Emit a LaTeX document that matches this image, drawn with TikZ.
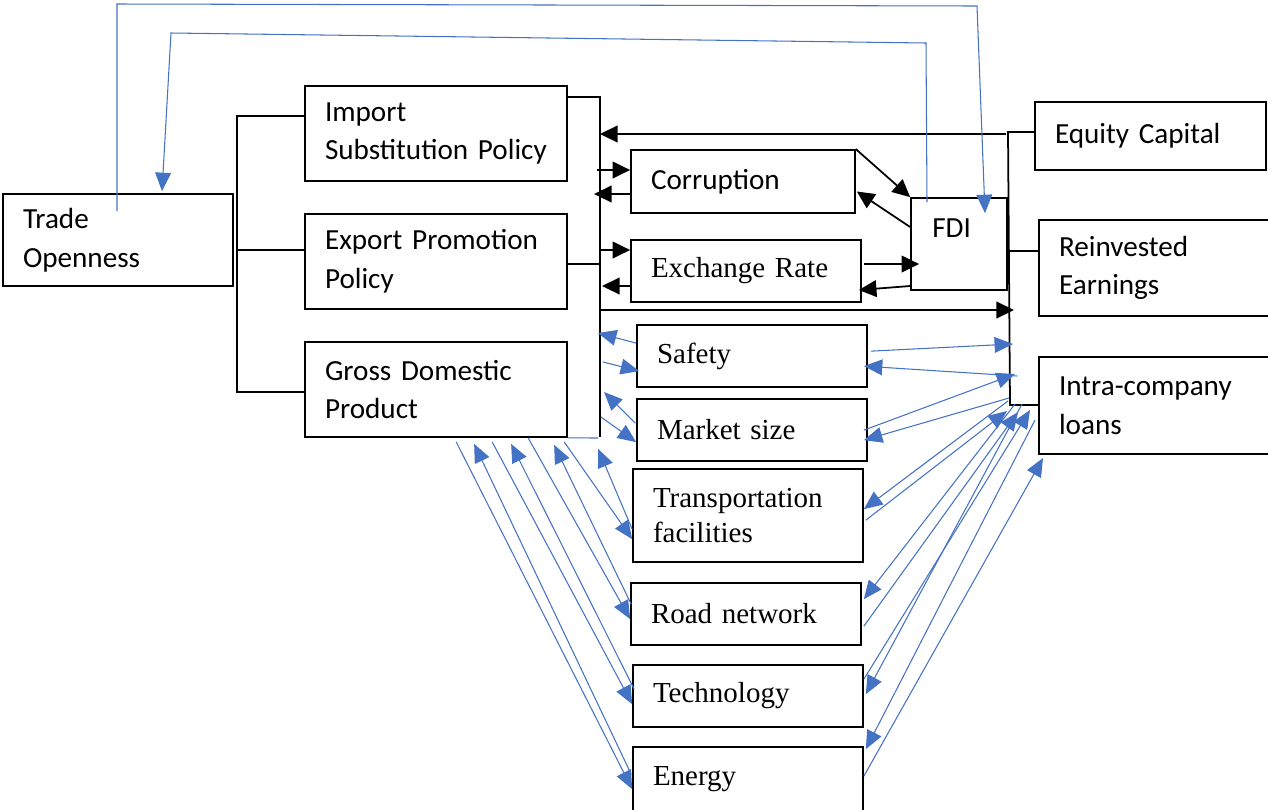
\documentclass[tikz,border=0pt]{standalone}
\usepackage{fontspec}
\usepackage{tikz}
\usetikzlibrary{arrows.meta,shapes}
\newfontfamily\sansfnt{Carlito}
\newfontfamily\seriffnt{Liberation Serif}
\definecolor{wordblue}{HTML}{4472C4}
\newcommand{\boxw}{1pt}
\newcommand{\linew}{0.6pt}

\begin{document}
\begin{tikzpicture}[x=0.02cm,y=-0.02cm]
\tikzset{
    box/.style={draw, rectangle, line width=\boxw, inner xsep=0.4cm, inner ysep=0pt, align=left},
    sbox/.style={box, font=\sansfnt\fontsize{16.6}{22}\selectfont},
    tbox/.style={box, font=\seriffnt\fontsize{16.5}{20}\selectfont, minimum width=4.6cm, minimum height=1.24cm, text width=3.8cm},
    pbox/.style={sbox, minimum width=5.24cm, minimum height=1.9cm, text width=4.44cm},
    rbox/.style={sbox, minimum width=4.62cm, text width=3.82cm},
    bus/.style={line width=\boxw},
    blk/.style={line width=\boxw, -{Triangle[length=10pt,width=9.5pt]}},
    blu/.style={wordblue, line width=\linew, -{Triangle[length=10.5pt,width=9pt]}},
    bluplain/.style={wordblue, line width=\linew}
}
\useasboundingbox (0,0) rectangle (1268,809);

\node[sbox, minimum width=4.6cm, minimum height=1.84cm, text width=3.8cm] (trade) at (118,240) {Trade\\Openness};
\node[pbox] (imp) at (436,133.5) {Import\\Substitution~Policy};
\node[pbox] (exp) at (436,261.5) {Export Promotion\\Policy};
\node[pbox] (gdp) at (436,389.5) {Gross Domestic\\Product};
\node[sbox, minimum width=4.48cm, minimum height=1.26cm, text width=3.68cm] (corr) at (743,181.5) {Corruption};
\node[tbox] (exch) at (746,271) {Exchange Rate};
\node[sbox, minimum width=1.92cm, minimum height=1.84cm] (fdi) at (959,244) {};
\node[font=\sansfnt\fontsize{16.6}{22}\selectfont, anchor=west, inner sep=0pt] (fdilbl) at (932,228) {FDI};
\node[rbox, minimum height=1.36cm] (equity) at (1150.5,136) {Equity Capital};
\node[rbox, minimum height=1.92cm] (reinv) at (1154.5,268) {Reinvested\\Earnings};
\node[rbox, minimum height=1.94cm] (intra) at (1154.5,405.5) {Intra-company\\loans};
\node[tbox] (safety) at (752,356) {Safety};
\node[tbox] (market) at (752,430) {Market size};
\node[tbox, minimum height=1.86cm] (trans) at (748,515.5) {Transportation\\facilities};
\node[tbox] (road) at (746,614) {Road network};
\node[tbox] (tech) at (748,696) {Technology};
\node[tbox, minimum height=1.3cm] (energy) at (748,779.5) {Energy};

\coordinate (ltr) at (237,116);
\coordinate (lmid) at (237,250);
\coordinate (lbr) at (237,392);
\coordinate (blt) at (600,97);
\coordinate (blb) at (600,437);
\coordinate (bex) at (600,264);
\coordinate (brt) at (1008,132);
\coordinate (brm) at (1009,251);
\coordinate (brb) at (1010,405);
\draw[bus] (imp.west |- ltr) -- (ltr) -- (lbr) -- (lbr -| gdp.west);
\draw[bus] (lmid) -- (lmid -| exp.west);
\draw[bus] (imp.east |- blt) -- (blt) -- (blb);
\draw[bus] (bex -| exp.east) -- (bex);
\draw[bus] (equity.west |- brt) -- (brt) -- (brb) -- (brb -| intra.west);
\draw[bus] (brm) -- (brm -| reinv.west);

\coordinate (beq) at (1006,134);
\coordinate (bc1) at (597,170);
\coordinate (bc2) at (594,194);
\coordinate (bx1) at (600,250);
\coordinate (bx2) at (602,286);
\coordinate (bfd) at (600,310);
\coordinate (bfe) at (1014,310);
\draw[blk] (beq) -- (beq -| blt);
\draw[blk] (bc1) -- (bc1 -| corr.west);
\draw[blk] (bc2 -| corr.west) -- (bc2);
\draw[blk] (bx1) -- (bx1 -| exch.west);
\draw[blk] (bx2 -| exch.west) -- (bx2);
\draw[blk] (bfd) -- (bfe);
\draw[blk] (corr.north east) -- (fdi.north west);
\draw[blk] ([shift={(0,-17)}]fdi.west) -- ([shift={(1,10)}]corr.east);
\draw[blk] ([shift={(2,-7)}]exch.east) -- ([shift={(9,20)}]fdi.west);
\draw[blk] ([shift={(0,42)}]fdi.west) -- ([shift={(-3,19)}]exch.east);

\coordinate (ta1) at (117,4);
\coordinate (ta2) at (977,6);
\coordinate (tb1) at (926,43);
\coordinate (tb2) at (171,33);
\draw[blu] ([shift={(-1,18)}]trade.north) -- (ta1) -- (ta2) -- ([shift={(26,16)}]fdi.north);
\draw[blu] ([shift={(-32,5)}]fdi.north) -- (tb1) -- (tb2) -- ([shift={(44,-2)}]trade.north);

\coordinate (sl1) at (598,333);
\coordinate (sl2) at (603,362);
\coordinate (ml1) at (604,392);
\coordinate (ml2) at (601,417);
\draw[blu] ([shift={(0,19)}]safety.north west) -- (sl1);
\draw[blu] (sl2) -- ([shift={(3,47)}]safety.north west);
\draw[blu] ([shift={(-1,25)}]market.north west) -- (ml1);
\draw[blu] (ml2) -- ([shift={(0,44)}]market.north west);

\coordinate (gfx) at (598,438);
\draw[bluplain] (gdp.south east) -- (gfx);
\draw[blu] ([shift={(152,4)}]gdp.south west) -- ([shift={(0,43)}]energy.north west);
\draw[blu] ([shift={(-1,28)}]energy.north west) -- ([shift={(170,6)}]gdp.south west);
\draw[blu] ([shift={(188,4)}]gdp.south west) -- ([shift={(0,40)}]tech.north west);
\draw[blu] ([shift={(2,25)}]tech.north west) -- ([shift={(207,6)}]gdp.south west);
\draw[blu] ([shift={(224,0)}]gdp.south west) -- ([shift={(0,37)}]road.north west);
\draw[blu] ([shift={(1,22)}]road.north west) -- ([shift={(250,7)}]gdp.south west);
\draw[blu] ([shift={(260,4)}]gdp.south west) -- ([shift={(0,71)}]trans.north west);
\draw[blu] ([shift={(0,61)}]trans.north west) -- ([shift={(294,11)}]gdp.south west);

\coordinate (rs1) at (1013,344);
\coordinate (rs2) at (1017,376);
\coordinate (rs3) at (1015,374);
\coordinate (rs4) at (1009,398);
\coordinate (rt1) at (1008,401);
\coordinate (rt2) at (1007,411);
\coordinate (rr1) at (1015,404);
\coordinate (rr2) at (1018,412);
\coordinate (rq1) at (1022,404);
\coordinate (rq2) at (1030,410);
\coordinate (re1) at (1035,420);
\coordinate (re2) at (1043,458);
\draw[blu] ([shift={(3,27)}]safety.north east) -- (rs1);
\draw[blu] (rs2) -- ([shift={(-4,42)}]safety.north east);
\draw[blu] ([shift={(-4,32)}]market.north east) -- (rs3);
\draw[blu] (rs4) -- ([shift={(-4,42)}]market.north east);
\draw[blu] (rt1) -- ([shift={(0,41)}]trans.north east);
\draw[blu] ([shift={(2,52)}]trans.north east) -- (rt2);
\draw[blu] (rr1) -- ([shift={(2,17)}]road.north east);
\draw[blu] ([shift={(2,44)}]road.north east) -- (rr2);
\draw[blu] (rq1) -- ([shift={(2,30)}]tech.north east);
\draw[blu] ([shift={(0,15)}]tech.north east) -- (rq2);
\draw[blu] (re1) -- ([shift={(2,3)}]energy.north east);
\draw[blu] ([shift={(0,30)}]energy.north east) -- (re2);
\end{tikzpicture}
\end{document}
